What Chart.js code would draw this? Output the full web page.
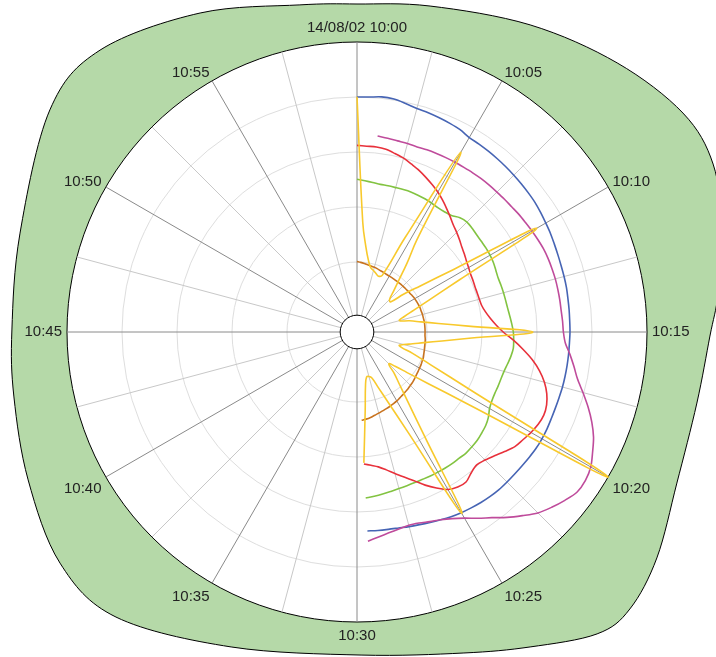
<!DOCTYPE html>
<html>
<head>
<meta charset="utf-8">
<script src="https://cdn.jsdelivr.net/npm/chart.js@4"></script>
<style>
  html, body { margin: 0; padding: 0; background: #fff; }
  #wrap { width: 716px; height: 657px; position: relative; }
</style>
</head>
<body>
<div id="wrap"><canvas id="polar-chart"></canvas></div>
<script>
// spoke labels, one every 5 minutes
const tickLabels = ['14/08/02 10:00', '10:05', '10:10', '10:15', '10:20', '10:25',
                    '10:30', '10:35', '10:40', '10:45', '10:50', '10:55'];

// samples every 30 seconds from 10:00:00 to 10:29:30
const blue = [80.0, 80.1, 80.5, 80.3, 79.5, 78.7, 78.4, 78.0, 77.6, 77.1,
              76.2, 76.0, 75.8, 75.6, 75.4, 75.2, 75.0, 74.8, 74.6, 74.2,
              73.8, 73.5, 73.1, 72.8, 72.6, 72.5, 72.4, 72.2, 72.1, 72.0,
              72.0, 71.9, 71.9, 71.9, 71.9, 71.9, 71.8, 71.8, 71.9, 72.1,
              72.2, 72.2, 72.0, 71.8, 71.7, 71.7, 71.7, 71.5, 71.2, 70.8,
              70.4, 69.9, 69.3, 68.7, 68.2, 67.8, 67.4, 67.2, 67.1, 67.0];
const magenta = [null, null, 66.2, 65.9, 65.6, 65.5, 65.3, 65.5, 65.6, 65.7,
                 65.8, 65.9, 66.1, 66.3, 66.4, 66.5, 66.7, 66.9, 67.3, 67.6,
                 68.0, 68.4, 68.8, 69.0, 69.1, 69.2, 69.2, 69.2, 69.2, 69.4,
                 69.6, 70.4, 72.4, 74.4, 76.5, 79.6, 82.9, 86.0, 88.7, 90.7,
                 92.7, 93.6, 93.5, 91.8, 89.8, 87.6, 84.4, 81.3, 78.0, 75.3,
                 72.7, 70.7, 69.3, 68.4, 67.6, 67.3, 67.8, 68.5, 69.5, 70.7];
const red = [62.4, 62.2, 62.2, 61.8, 60.9, 60.0, 58.7, 57.5, 56.1, 54.7,
             53.3, 51.7, 50.0, 48.4, 46.9, 45.8, 44.7, 43.6, 42.8, 42.0,
             41.4, 40.9, 40.7, 40.5, 40.5, 40.6, 40.9, 41.8, 43.2, 45.1,
             47.7, 51.5, 55.3, 59.1, 62.4, 65.1, 67.1, 68.4, 68.9, 68.5,
             67.6, 66.5, 65.5, 63.6, 61.8, 60.4, 59.6, 60.5, 62.0, 61.8,
             60.7, 58.2, 55.5, 52.5, 50.0, 47.8, 45.8, 44.2, 43.3, 42.6];
const green = [50.1, 49.6, 49.2, 48.9, 48.9, 48.9, 49.0, 49.1, 49.0, 48.9,
               48.7, 48.5, 48.6, 49.1, 50.5, 51.1, 50.9, 50.6, 50.5, 50.5,
               50.4, 50.2, 49.8, 49.5, 49.6, 49.7, 49.8, 50.0, 50.4, 50.9,
               51.4, 51.6, 51.7, 51.2, 50.5, 49.9, 49.6, 49.5, 49.4, 49.6,
               50.2, 51.5, 52.4, 52.9, 53.4, 53.6, 53.8, 53.6, 53.6, 53.5,
               53.4, 53.3, 53.2, 53.2, 53.3, 53.5, 53.8, 54.2, 54.6, 55.0];
const yellow = [80.1, 34.5, 25.6, 21.0, 18.5, 17.7, 16.9, 16.3, 17.1, 33.1,
                70.0, 34.5, 25.5, 18.6, 14.3, 11.3, 10.9, 16.5, 23.2, 36.0,
                70.0, 36.4, 23.5, 16.7, 12.5, 10.5, 14.1, 18.1, 24.3, 35.1,
                58.5, 36.3, 25.6, 19.2, 15.2, 12.2, 10.7, 16.2, 23.9, 40.4,
                100, 42.9, 26.2, 18.0, 13.2, 10.9, 14.7, 19.1, 26.2, 39.3,
                70.7, 35.6, 22.8, 16.2, 12.1, 11.3, 11.3, 14.3, 23.1, 42.2];
const orange = [20.2, 19.9, 19.6, 19.3, 19.1, 18.9, 18.7, 18.4, 18.3, 18.1,
                18.0, 18.0, 18.0, 18.0, 18.1, 18.1, 18.2, 18.3, 18.4, 18.6,
                18.8, 18.9, 19.0, 19.1, 19.1, 19.2, 19.2, 19.3, 19.3, 19.3,
                19.3, 19.3, 19.5, 19.6, 19.7, 19.9, 20.1, 20.4, 20.5, 20.7,
                20.8, 21.0, 21.2, 21.5, 21.8, 22.0, 22.3, 22.5, 22.8, 23.1,
                23.5, 23.8, 24.1, 24.4, 24.7, 25.1, 25.5, 26.0, 26.4, 26.7];

// one category every 30 s around the full hour
const times = [];
for (let m = 0; m < 60; m++) {
    const mm = String(m).padStart(2, '0');
    times.push('10:' + mm + ':00', '10:' + mm + ':30');
}

const pad = (arr) => arr.concat(new Array(times.length - arr.length).fill(null));

// green backdrop outline, in units of the plot radius
const blobShape = [
    [0, -1.131], [0.252, -1.124], [0.597, -1.059], [0.897, -0.928], [1.124, -0.755],
    [1.228, -0.579], [1.259, -0.352], [1.245, -0.131], [1.217, 0.014], [1.172, 0.245],
    [1.103, 0.521], [1.034, 0.779], [0.941, 0.955], [0.828, 1.041], [0.597, 1.086],
    [0.366, 1.107], [0.014, 1.114], [-0.434, 1.086], [-0.831, 0.983], [-1.024, 0.797],
    [-1.134, 0.510], [-1.183, 0.224], [-1.190, -0.007], [-1.162, -0.341], [-1.059, -0.766],
    [-0.886, -0.972], [-0.541, -1.100], [-0.197, -1.128]
];

const backdrop = {
    id: 'backdrop',
    beforeDraw(chart) {
        const s = chart.scales.r;
        const ctx = chart.ctx;
        const R = s.drawingArea, cx = s.xCenter, cy = s.yCenter;
        const pts = blobShape.map(p => [cx + p[0] * R, cy + p[1] * R]);
        const n = pts.length;
        ctx.save();
        ctx.beginPath();
        ctx.moveTo(pts[0][0], pts[0][1]);
        for (let i = 0; i < n; i++) {
            const p0 = pts[(i - 1 + n) % n], p1 = pts[i], p2 = pts[(i + 1) % n], p3 = pts[(i + 2) % n];
            ctx.bezierCurveTo(p1[0] + (p2[0] - p0[0]) / 6, p1[1] + (p2[1] - p0[1]) / 6,
                              p2[0] - (p3[0] - p1[0]) / 6, p2[1] - (p3[1] - p1[1]) / 6,
                              p2[0], p2[1]);
        }
        ctx.closePath();
        ctx.fillStyle = '#b5d9a8';
        ctx.fill();
        ctx.strokeStyle = '#000';
        ctx.lineWidth = 1;
        ctx.stroke();
        ctx.beginPath();
        ctx.arc(cx, cy, R, 0, Math.PI * 2);
        ctx.fillStyle = '#fff';
        ctx.fill();
        ctx.restore();
    },
    afterDraw(chart) {
        const s = chart.scales.r;
        const ctx = chart.ctx;
        ctx.save();
        ctx.beginPath();
        ctx.arc(s.xCenter, s.yCenter, s.drawingArea * 0.058, 0, Math.PI * 2);
        ctx.fillStyle = '#fff';
        ctx.fill();
        ctx.strokeStyle = '#000';
        ctx.lineWidth = 1;
        ctx.stroke();
        ctx.restore();
    }
};

const line = (data, color, tension) => ({
    data: pad(data),
    borderColor: color,
    borderWidth: 1.6,
    fill: false,
    pointRadius: 0,
    tension: tension,
    spanGaps: false
});

// labels on the upper diagonals sit closer to the rim
const labelLineHeight = (i) => {
    if (i === 10 || i === 110) return '7px';
    if (i === 20 || i === 100) return '5px';
    return 1.2;
};

const ctx = document.getElementById('polar-chart').getContext('2d');
new Chart(ctx, {
    type: 'radar',
    data: {
        labels: times,
        datasets: [
            line(yellow, '#f8c92c', 0.42),
            line(orange, '#c8731f', 0.3),
            line(red, '#e8313b', 0.3),
            line(green, '#82c341', 0.3),
            line(magenta, '#bf4b9b', 0.3),
            line(blue, '#4664b4', 0.3)
        ]
    },
    options: {
        responsive: true,
        maintainAspectRatio: false,
        animation: false,
        layout: { padding: { top: 19, bottom: 12, left: 0, right: 2 } },
        plugins: { legend: { display: false }, tooltip: { enabled: false } },
        scales: {
            r: {
                min: -5.4545,
                max: 100,
                afterBuildTicks: (scale) => {
                    scale.ticks = [0, 20, 40, 60, 80, 100].map(v => ({ value: v }));
                },
                ticks: { display: false },
                grid: {
                    circular: true,
                    color: (c) => (c.tick && c.tick.value === 100) ? '#000' : '#dedede',
                    lineWidth: 1
                },
                angleLines: {
                    color: (c) => c.index % 10 === 0 ? '#8a8a8a' : '#c8c8c8',
                    lineWidth: (c) => c.index % 5 === 0 ? 1 : 0
                },
                pointLabels: {
                    padding: 5,
                    color: '#222',
                    font: (c) => ({
                        size: 15,
                        family: '"Liberation Sans", Arial, sans-serif',
                        lineHeight: labelLineHeight(c.index)
                    }),
                    callback: (label, index) => index % 10 === 0 ? tickLabels[index / 10] : ''
                }
            }
        }
    },
    plugins: [backdrop]
});
</script>
</body>
</html>
